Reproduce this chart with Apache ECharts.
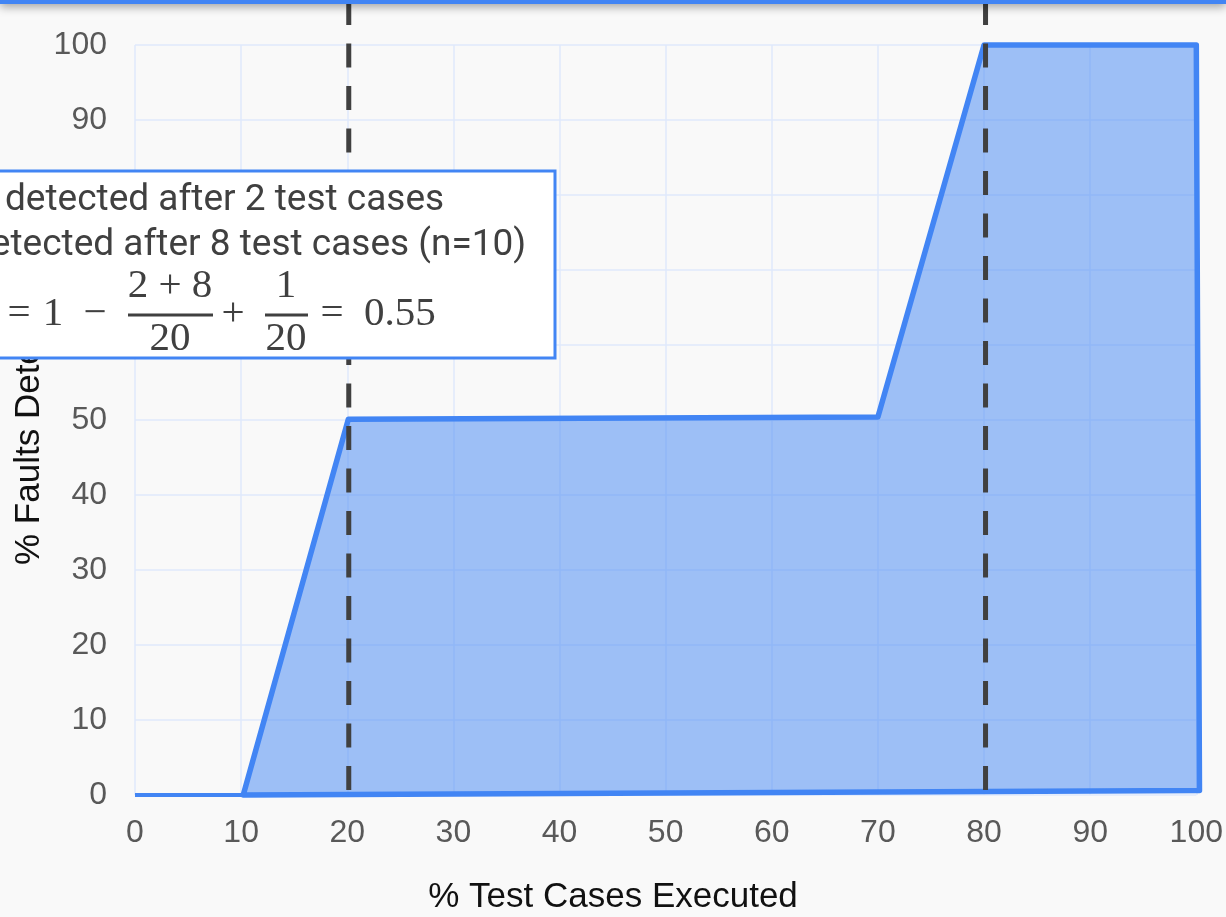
<!DOCTYPE html>
<html>
<head>
<meta charset="utf-8">
<script src="https://cdn.jsdelivr.net/npm/echarts@6/dist/echarts.min.js"></script>
<style>
  html, body { margin: 0; padding: 0; background: #f9f9f9; }
  #chart { width: 1226px; height: 917px; }
</style>
</head>
<body>
<div id="chart"></div>
<script>
// Axis ticks
const xTicks = [0, 10, 20, 30, 40, 50, 60, 70, 80, 90, 100];
const yTicks = [0, 10, 20, 30, 40, 50, 60, 70, 80, 90, 100];

// Cumulative detection curve (% test cases executed vs % faults detected)
const leadX = [0, 10.2];
const leadY = [0, 0];
const areaX = [10.2, 20.1, 70, 80, 100, 100.3];
const areaY = [0, 50.1, 50.4, 100, 100, 0.6];

// Vertical markers where faults were detected
const markerX = [20, 80];

// Annotation text
const noteLines = ['detected after 2 test cases', 'detected after 8 test cases (n=10)'];

const BLUE = '#4285f4';
const INK = '#404040';
const MATH = '41px "Liberation Serif", serif';
const chart = echarts.init(document.getElementById('chart'));

function mathText(x, y, text, align) {
  return {
    type: 'text', x: x, y: y, z: 21,
    style: { text: text, fill: INK, font: MATH, align: align || 'left', verticalAlign: 'middle' }
  };
}

chart.setOption({
  backgroundColor: '#f9f9f9',
  animation: false,
  grid: { left: 135, right: 29, top: 45, bottom: 122 },
  xAxis: {
    type: 'value', min: xTicks[0], max: xTicks[xTicks.length - 1], interval: 10,
    axisLine: { show: false }, axisTick: { show: false },
    splitLine: { lineStyle: { color: '#dfe9fb', width: 1.5 } },
    axisLabel: { color: '#595959', fontSize: 32, fontFamily: '"Liberation Sans", Arial, sans-serif', margin: 22 }
  },
  yAxis: {
    type: 'value', min: yTicks[0], max: yTicks[yTicks.length - 1], interval: 10,
    axisLine: { show: false }, axisTick: { show: false },
    splitLine: { lineStyle: { color: '#dfe9fb', width: 1.5 } },
    axisLabel: { color: '#595959', fontSize: 32, fontFamily: '"Liberation Sans", Arial, sans-serif', margin: 28 }
  },
  series: [
    {
      type: 'line',
      data: leadX.map((x, i) => [x, leadY[i]]),
      symbol: 'none',
      lineStyle: { color: BLUE, width: 4 },
      z: 3
    },
    {
      type: 'custom',
      coordinateSystem: 'cartesian2d',
      data: [[areaX[0], areaY[0]]],
      clip: false,
      z: 4,
      renderItem: function (params, api) {
        const pts = areaX.map((x, i) => api.coord([x, areaY[i]]));
        return {
          type: 'polygon',
          shape: { points: pts },
          style: { fill: 'rgba(66,133,244,0.5)', stroke: BLUE, lineWidth: 5.5, lineJoin: 'round' }
        };
      }
    },
    {
      type: 'custom',
      coordinateSystem: 'cartesian2d',
      data: markerX.map(x => [x, 0]),
      clip: false,
      z: 6,
      renderItem: function (params, api) {
        const p = api.coord([api.value(0), 0]);
        return {
          type: 'line',
          shape: { x1: p[0] + 1.5, y1: p[1] - 5, x2: p[0] + 1.5, y2: 0 },
          style: { stroke: INK, lineWidth: 5, lineDash: [24, 18.5] }
        };
      }
    }
  ],
  graphic: [
    // axis titles
    {
      type: 'text', left: 'center', top: 880, z: 10,
      style: { text: '% Test Cases Executed', fill: '#111', font: '35px "Liberation Sans", Arial, sans-serif' }
    },
    {
      type: 'text', x: 12, y: 422, rotation: Math.PI / 2, z: 10,
      style: { text: '% Faults Detected', fill: '#111', font: '35px "Liberation Sans", Arial, sans-serif',
               align: 'center', verticalAlign: 'top' }
    },
    // annotation box
    {
      type: 'rect', z: 20,
      shape: { x: -20, y: 171, width: 575, height: 187 },
      style: { fill: '#ffffff', stroke: BLUE, lineWidth: 3 }
    },
    {
      type: 'text', x: 5, y: 201, z: 21,
      style: { text: noteLines[0], fill: INK, font: '37px Roboto', verticalAlign: 'middle' }
    },
    {
      type: 'text', x: -30, y: 246, z: 21,
      style: { text: noteLines[1], fill: INK, font: '37px Roboto', verticalAlign: 'middle' }
    },
    // formula: = 1 − (2 + 8)/20 + 1/20 = 0.55
    mathText(19, 314, '=', 'center'),
    mathText(53, 314, '1', 'center'),
    mathText(95, 314, '−', 'center'),
    mathText(170, 286, '2 + 8', 'center'),
    { type: 'line', z: 21, shape: { x1: 128, y1: 315, x2: 213, y2: 315 }, style: { stroke: INK, lineWidth: 3 } },
    mathText(170, 339, '20', 'center'),
    mathText(233, 314, '+', 'center'),
    mathText(286, 286, '1', 'center'),
    { type: 'line', z: 21, shape: { x1: 265, y1: 315, x2: 308, y2: 315 }, style: { stroke: INK, lineWidth: 3 } },
    mathText(286, 339, '20', 'center'),
    mathText(332, 314, '=', 'center'),
    mathText(364, 314, '0.55', 'left'),
    // top banner
    {
      type: 'rect', z: 30,
      shape: { x: 0, y: -10, width: 1226, height: 14 },
      style: { fill: BLUE, shadowBlur: 10, shadowOffsetY: 3, shadowColor: 'rgba(0,0,0,0.35)' }
    }
  ]
});
</script>
</body>
</html>
